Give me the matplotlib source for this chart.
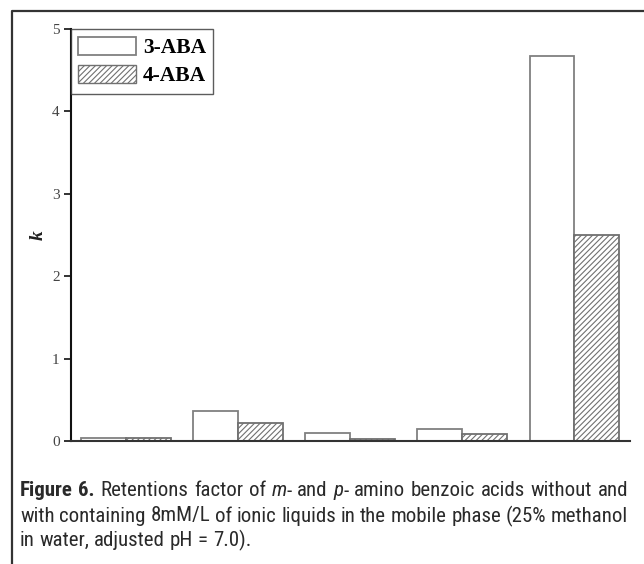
import matplotlib
matplotlib.use("Agg")
import matplotlib.pyplot as plt
from matplotlib import font_manager as fm
import numpy as np
from matplotlib.lines import Line2D
from matplotlib.patches import Patch

# ---- data ----
groups = ["G1", "G2", "G3", "G4", "G5"]
aba3 = [0.04, 0.37, 0.10, 0.15, 4.67]
aba4 = [0.04, 0.22, 0.03, 0.09, 2.50]
series_names = ["3-ABA", "4-ABA"]
yticks = [0, 1, 2, 3, 4, 5]
ylabel = "k"

W, H = 644, 564
fig = plt.figure(figsize=(W / 100, H / 100), dpi=100)
fig.patch.set_facecolor("white")

# outer frame (left + top)
bx = 11.7 / W
by = 1 - 10.7 / H
fig.add_artist(Line2D([bx, bx, 1.0], [0.0, by, by], transform=fig.transFigure,
                      color="#333333", lw=1.6))

ax = fig.add_axes([70.7 / W, 1 - 441 / H, (630 - 70.7) / W, (441 - 29) / H])
x = np.arange(len(groups))
w = 0.40
plt.rcParams["hatch.linewidth"] = 0.8
plt.rcParams["hatch.color"] = "#555555"
ax.bar(x - w / 2, aba3, width=w, facecolor="white", edgecolor="#808080", lw=1.3,
       label=series_names[0])
ax.bar(x + w / 2, aba4, width=w, facecolor="white", edgecolor="#707070", lw=1.3,
       hatch="//////", label=series_names[1])

ax.set_xlim(-0.49, 4.495)
ax.set_ylim(0, 5)
ax.set_xticks([])
ax.set_yticks(yticks)
ax.set_yticklabels([str(t) for t in yticks], family="Liberation Serif", fontsize=11,
                   color="#444444")
ax.tick_params(axis="y", direction="out", length=5, width=1.3, color="#222222", pad=3)
for s in ["top", "right"]:
    ax.spines[s].set_visible(False)
ax.spines["left"].set_linewidth(1.5)
ax.spines["left"].set_color("#111111")
ax.spines["bottom"].set_linewidth(1.5)
ax.spines["bottom"].set_color("#333333")
ax.set_ylabel(ylabel, family="Liberation Serif", style="italic", fontweight="bold",
              fontsize=14, color="#222222", labelpad=4)

handles = [Patch(facecolor="white", edgecolor="#808080", lw=1.3),
           Patch(facecolor="white", edgecolor="#707070", lw=1.0, hatch="//////")]
leg = ax.legend(handles, series_names, loc="upper left", bbox_to_anchor=(0.0, 1.0),
                prop={"family": "Liberation Serif", "weight": "bold", "size": 15.5},
                frameon=True, fancybox=False, edgecolor="#333333",
                handlelength=2.7, handleheight=0.95, handletextpad=0.3,
                borderpad=0.35, labelspacing=0.3, borderaxespad=0.0)
leg.get_frame().set_linewidth(1.0)

# ---- caption font selection (prefer a condensed sans) ----
names = {f.name for f in fm.fontManager.ttflist}
cap_family, cap_stretch = "Liberation Sans", "normal"
for cand in ["Liberation Sans Narrow", "Roboto Condensed", "Open Sans Condensed",
             "DejaVu Sans Condensed", "Noto Sans Condensed"]:
    if cand in names:
        cap_family = cand
        break
else:
    cond = [f for f in fm.fontManager.ttflist
            if f.stretch in ("condensed", "semi-condensed", 375)
            and f.name in ("DejaVu Sans", "Noto Sans", "Open Sans", "Roboto")]
    if cond:
        cap_family, cap_stretch = cond[0].name, "condensed"

cap_color = "#2a2a2a"

lines_spec = [
    ([[("Figure", "B")], [("6.", "B")], [("Retentions", "R")], [("factor", "R")], [("of", "R")],
      [("m", "I"), ("-", "R")], [("and", "R")], [("p", "I"), ("-", "R")], [("amino", "R")],
      [("benzoic", "R")], [("acids", "R")], [("without", "R")], [("and", "R")]], True, 491),
    ([[(w_, "R")] for w_ in "with containing 8mM/L of ionic liquids in the mobile phase (25% methanol".split()],
     True, 516),
    ([[(w_, "R")] for w_ in "in water, adjusted pH = 7.0).".split()], False, 540),
]

x0, x1 = 20.0, 628.0
fig.canvas.draw()
renderer = fig.canvas.get_renderer()


def props(kind, size):
    p = {"family": [cap_family, "DejaVu Sans"], "size": size, "color": cap_color,
         "stretch": cap_stretch}
    if kind == "B":
        p["weight"] = "bold"
    elif kind == "I":
        p["style"] = "italic"
    return p


def seg_width(txt, p):
    t = fig.text(0, 0, txt, **p)
    wdt = t.get_window_extent(renderer).width
    t.remove()
    return wdt


def natural(words, size):
    sp = seg_width("a a", props("R", size)) - seg_width("aa", props("R", size))
    tot = sum(seg_width(s, props(k, size)) for wd in words for s, k in wd)
    return tot + 0.9 * sp * (len(words) - 1)


cap_size = 17.0
while cap_size > 8 and max(natural(lines_spec[0][0], cap_size),
                           natural(lines_spec[1][0], cap_size)) > (x1 - x0):
    cap_size -= 0.25

space_w = seg_width("a a", props("R", cap_size)) - seg_width("aa", props("R", cap_size))
for words, justify, ypix in lines_spec:
    widths = [[seg_width(s, props(k, cap_size)) for s, k in wd] for wd in words]
    total = sum(sum(ws) for ws in widths)
    gap = (x1 - x0 - total) / (len(words) - 1) if justify else space_w
    cx = x0
    for wd, ws in zip(words, widths):
        for (s, k), sw in zip(wd, ws):
            fig.text(cx / W, 1 - ypix / H, s, ha="left", va="center", **props(k, cap_size))
            cx += sw
        cx += gap

fig.savefig("out.png", dpi=100, facecolor="white")
